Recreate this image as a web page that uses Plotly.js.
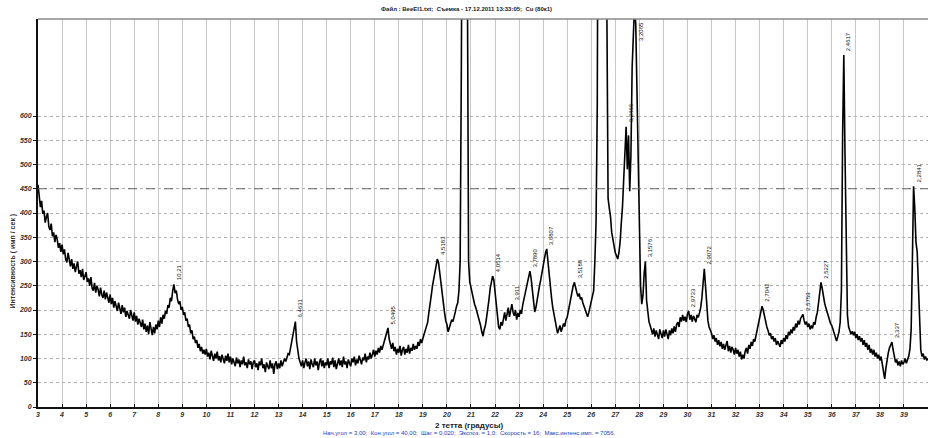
<!DOCTYPE html>
<html>
<head>
<meta charset="utf-8">
<script src="https://cdn.plot.ly/plotly-3.0.1.min.js"></script>
<style>
html,body{margin:0;padding:0;background:#fff;}
#chart{width:929px;height:438px;}
</style>
</head>
<body>
<div id="chart"></div>
<script>
// 2θ start and step of the scan (degrees)
const scanStart = 3.0;
const scanStep = 0.05;
// Intensity (counts/s), one value per 0.05° (20 per row = 1°)
const counts = [
  458, 440, 412, 425, 398, 405, 380, 392, 400, 372, 365, 378, 352, 360, 340, 355, 345, 328, 338, 320, // 3
  335, 315, 325, 305, 298, 318, 300, 290, 305, 285, 296, 278, 290, 300, 275, 282, 268, 285, 262, 272, // 4
  278, 258, 265, 250, 268, 245, 240, 256, 236, 250, 242, 228, 246, 232, 225, 240, 222, 236, 228, 215, // 5
  232, 212, 225, 205, 218, 210, 198, 215, 200, 192, 210, 195, 205, 186, 198, 190, 182, 200, 185, 178, // 6
  195, 176, 188, 170, 182, 175, 165, 180, 160, 172, 155, 168, 150, 175, 158, 148, 165, 152, 170, 160, // 7
  178, 165, 185, 172, 190, 182, 198, 192, 210, 205, 225, 218, 240, 253, 235, 240, 222, 212, 218, 200, // 8
  206, 190, 195, 178, 182, 165, 170, 152, 158, 140, 145, 132, 138, 122, 130, 115, 124, 110, 118, 108, // 9
  120, 104, 112, 98, 116, 102, 95, 110, 100, 114, 96, 105, 92, 108, 98, 90, 106, 95, 110, 92,         // 10
  104, 88, 100, 92, 84, 102, 90, 98, 82, 96, 88, 104, 86, 92, 80, 98, 88, 94, 78, 92,                 // 11
  96, 82, 90, 76, 94, 86, 100, 80, 88, 72, 92, 84, 78, 96, 80, 90, 68, 88, 94, 78,                    // 12
  90, 80, 96, 84, 92, 100, 94, 104, 110, 108, 122, 130, 145, 160, 176, 135, 112, 100, 92, 84,         // 13
  96, 80, 92, 100, 84, 94, 78, 98, 88, 82, 100, 86, 94, 76, 92, 100, 84, 96, 80, 92,                  // 14
  86, 100, 80, 94, 88, 102, 82, 96, 78, 92, 100, 86, 96, 82, 104, 88, 94, 80, 98, 90,                 // 15
  84, 100, 92, 104, 86, 98, 90, 106, 94, 88, 102, 96, 110, 92, 104, 98, 112, 100, 108, 118,           // 16
  104, 116, 108, 122, 112, 126, 118, 130, 136, 145, 152, 163, 140, 128, 120, 132, 115, 124, 108, 120, // 17
  112, 126, 106, 118, 124, 108, 120, 112, 128, 110, 122, 116, 130, 118, 126, 120, 134, 126, 140, 132, // 18
  145, 150, 158, 168, 175, 195, 210, 230, 250, 265, 280, 292, 305, 298, 275, 250, 232, 210, 195, 178, // 19
  170, 155, 165, 172, 180, 176, 190, 196, 208, 215, 240, 300, 700, 1500, 2200, 2400, 1800, 900, 300, 258, // 20
  245, 232, 225, 212, 205, 196, 190, 178, 168, 155, 146, 160, 168, 185, 200, 222, 245, 258, 270, 262, // 21
  240, 210, 185, 165, 160, 175, 168, 185, 195, 178, 190, 205, 186, 198, 212, 195, 188, 200, 180, 194, // 22
  186, 200, 192, 210, 222, 236, 245, 258, 270, 280, 265, 240, 215, 196, 205, 222, 235, 250, 262, 280, // 23
  292, 305, 318, 326, 300, 270, 245, 225, 205, 190, 175, 162, 152, 160, 168, 155, 165, 172, 166, 180, // 24
  185, 198, 210, 225, 240, 250, 257, 242, 236, 228, 234, 222, 226, 215, 208, 198, 190, 186, 195, 205, // 25
  215, 225, 240, 300, 380, 620, 1200, 2200, 3200, 3600, 3000, 2000, 1200, 700, 430, 410, 393, 360, 345, 330, // 26
  318, 312, 305, 318, 340, 380, 414, 470, 540, 578, 490, 560, 445, 520, 700, 800, 830, 790, 640, 500, // 27
  360, 250, 212, 230, 275, 300, 220, 190, 176, 168, 158, 150, 162, 145, 158, 150, 140, 160, 148, 142, // 28
  158, 145, 160, 150, 140, 158, 148, 162, 152, 166, 155, 170, 175, 165, 185, 176, 190, 178, 186, 175, // 29
  192, 198, 180, 190, 176, 188, 182, 175, 190, 185, 194, 205, 225, 255, 285, 250, 205, 178, 165, 158, // 30
  152, 140, 148, 135, 142, 128, 138, 125, 134, 120, 130, 118, 128, 136, 115, 126, 112, 124, 118, 108, // 31
  122, 110, 118, 104, 114, 98, 108, 100, 115, 122, 110, 128, 120, 134, 126, 140, 135, 148, 155, 168,  // 32
  182, 196, 208, 200, 186, 172, 165, 158, 148, 152, 140, 146, 135, 142, 128, 136, 130, 124, 138, 130, // 33
  142, 135, 148, 140, 155, 148, 160, 152, 165, 158, 172, 164, 178, 170, 182, 188, 191, 178, 170, 176, // 34
  165, 172, 160, 168, 162, 175, 170, 185, 195, 215, 240, 257, 245, 226, 215, 205, 196, 188, 180, 172, // 35
  168, 160, 150, 142, 136, 145, 155, 175, 240, 560, 726, 520, 280, 190, 165, 158, 150, 156, 148, 155, // 36
  142, 150, 138, 146, 135, 142, 128, 138, 124, 132, 118, 128, 112, 120, 108, 118, 104, 112, 100, 108, // 37
  96, 104, 88, 75, 58, 80, 100, 112, 122, 130, 134, 118, 100, 92, 98, 86, 94, 84, 96, 88,             // 38
  92, 100, 90, 98, 105, 120, 160, 300, 455, 410, 340, 320, 240, 150, 118, 104, 110, 98, 104, 96,      // 39
  100                                                                                                 // 40
];
const twoTheta = counts.map((_, i) => +(scanStart + i * scanStep).toFixed(2));

// Peak labels (interplanar spacing d, Å)
const peakPos = [8.65, 13.7, 17.55, 19.6, 21.9, 22.7, 23.45, 24.15, 25.3, 27.45, 28.25, 30.05, 30.7, 33.1, 34.8, 35.55, 36.5, 38.5, 39.4];
const peakTop = [253, 176, 163, 305, 270, 212, 280, 326, 257, 578, 300, 198, 285, 208, 191, 257, 726, 134, 455];
const peakLabel = ["10,21", "6,4631", "5,0495", "4,5183", "4,0514", "3,911", "3,7890", "3,6807", "3,5188", "3,2466", "3,1576", "2,9733", "2,9072", "2,7042", "2,5759", "2,5227", "2,4617", "2,337", "2,2841"];
// label of the peak that runs past the top of the frame
const topPeakPos = 27.8;
const topPeakLabel = "3,2065";

const xTicks = Array.from({length: 38}, (_, i) => 3 + i);
const yTicks = Array.from({length: 13}, (_, i) => i * 50);

const titleText = "Файл : BeeEl1.txt;  Съемка - 17.12.2011 13:33:05;  Cu (80к1)";
const xTitle = "2 тетта (градусы)";
const yTitle = "Интенсивность ( имп / сек )";
const infoText = "Нач.угол = 3,00;  Кон.угол = 40,00;  Шаг = 0,020;  Экспоз. = 1,0;  Скорость = 16;  Макс.интенс.имп. = 7056.";

const lblFont = {family: 'Liberation Sans, Arial', size: 6, color: '#111'};
const annotations = peakPos.map((p, i) => ({
  x: p, y: peakTop[i], xref: 'x', yref: 'y',
  text: peakLabel[i], showarrow: false, textangle: -90,
  xanchor: 'left', yanchor: 'bottom', yshift: 2, font: lblFont
}));
annotations.push({
  x: topPeakPos, y: 800, xref: 'x', yref: 'y', text: topPeakLabel, showarrow: false,
  textangle: -90, xanchor: 'left', yanchor: 'top', xshift: 1, yshift: -1, font: lblFont
});
annotations.push({
  xref: 'paper', yref: 'paper', x: 0.482, y: 1, yshift: 10, xanchor: 'center', yanchor: 'middle',
  text: '<b>' + titleText + '</b>', showarrow: false,
  font: {family: 'Liberation Sans, Arial', size: 6, color: '#222'}
});
annotations.push({
  xref: 'paper', yref: 'paper', x: 0.484, y: 0, yshift: -18, xanchor: 'center', yanchor: 'middle',
  text: '<b>' + xTitle + '</b>', showarrow: false,
  font: {family: 'Liberation Sans, Arial', size: 8, color: '#222'}
});
annotations.push({
  xref: 'paper', yref: 'paper', x: 0.484, y: 0, yshift: -26, xanchor: 'center', yanchor: 'middle',
  text: infoText, showarrow: false,
  font: {family: 'Liberation Sans, Arial', size: 6, color: '#2040c0'}
});
annotations.push({
  xref: 'paper', yref: 'y', x: 0, xshift: -26, y: 300, xanchor: 'center', yanchor: 'middle',
  text: '<b>' + yTitle + '</b>', showarrow: false, textangle: -90,
  font: {family: 'Liberation Sans, Arial', size: 7, color: '#333'}
});

const trace = {
  x: twoTheta, y: counts, type: 'scatter', mode: 'lines',
  line: {color: '#000', width: 1.6}, hoverinfo: 'skip'
};

const tickFont = {family: 'Liberation Sans, Arial', size: 7, color: '#333', style: 'italic', weight: 'bold'};
const layout = {
  width: 929, height: 438,
  margin: {l: 38, r: 1, t: 19, b: 31},
  paper_bgcolor: '#fff', plot_bgcolor: '#fff',
  showlegend: false,
  xaxis: {
    range: [3, 40], tickvals: xTicks, ticktext: xTicks.map(String),
    showgrid: true, gridcolor: '#c8c8c8', gridwidth: 1,
    showline: true, linecolor: '#111', linewidth: 2,
    ticks: 'inside', ticklen: 3, tickcolor: '#111',
    tickfont: tickFont, zeroline: false
  },
  yaxis: {
    range: [0, 800], tickvals: yTicks, ticktext: yTicks.map(String),
    showgrid: true, gridcolor: '#b0b0b0', gridwidth: 1, griddash: 'dot',
    showline: true, linecolor: '#111', linewidth: 2,
    ticks: 'outside', ticklen: 3, tickcolor: '#111',
    tickfont: tickFont, zeroline: false
  },
  shapes: [
    {type: 'line', xref: 'paper', yref: 'y', x0: 0, x1: 1, y0: 450, y1: 450,
     line: {color: '#666', width: 1, dash: 'dash'}},
    {type: 'line', xref: 'paper', yref: 'paper', x0: 0, x1: 1, y0: 1, y1: 1,
     line: {color: '#888', width: 1.5}}
  ],
  annotations: annotations
};

Plotly.newPlot('chart', [trace], layout, {staticPlot: true, displayModeBar: false});
</script>
</body>
</html>
